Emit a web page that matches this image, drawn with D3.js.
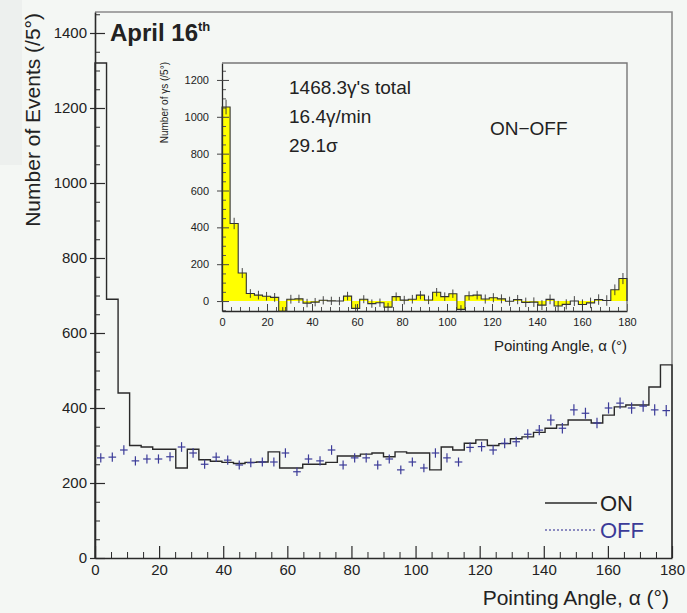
<!DOCTYPE html>
<html>
<head>
<meta charset="utf-8">
<script src="https://cdn.jsdelivr.net/npm/d3@7"></script>
<style>
  body { margin: 0; background: #f4f7f4; }
  svg { display: block; }
  text { font-family: "Liberation Sans", Arial, sans-serif; fill: #222; }
</style>
</head>
<body>
<svg id="chart" width="687" height="613"></svg>
<script>
// 3.6-degree bins of the pointing angle alpha, 0..180
const binWidth = 3.6;

// ON-source counts per bin
const onCounts = [
  1320, 690, 440, 300, 296, 290, 290, 240, 290, 262,
   258, 255, 252, 255, 256, 283, 240, 240, 250, 250,
   255, 272, 272, 277, 280, 270, 283, 280, 280, 235,
   296, 288, 306, 315, 300, 305, 318, 323, 335, 346,
   355, 368, 368, 360, 381, 403, 408, 408, 456, 515
];

// OFF-source counts per bin
const offCounts = [
   267, 269, 288, 259, 264, 264, 270, 296, 280, 250,
   269, 261, 248, 254, 256, 256, 280, 230, 264, 259,
   288, 248, 267, 267, 248, 264, 235, 256, 240, 280,
   267, 256, 295, 297, 288, 306, 310, 330, 341, 368,
   346, 395, 386, 360, 400, 413, 400, 405, 395, 393
];

const mainXTicks = [0, 20, 40, 60, 80, 100, 120, 140, 160, 180];
const mainYTicks = [0, 200, 400, 600, 800, 1000, 1200, 1400];
const insetXTicks = [0, 20, 40, 60, 80, 100, 120, 140, 160, 180];
const insetYTicks = [0, 200, 400, 600, 800, 1000, 1200];
const insetNotes = ["1468.3\u03b3's total", "16.4\u03b3/min", "29.1\u03c3"];
const legendLabels = ["ON", "OFF"];

const svg = d3.select("#chart");
const ink = "#2a2a2a";
const offColor = "#3b3b98";
const fmt = d3.format("d");

// page background, with the slightly greyer strip at top left
svg.append("rect").attr("width", 687).attr("height", 613).attr("fill", "#f4f7f4");
svg.append("rect").attr("width", 22).attr("height", 165).attr("fill", "#edf0ee");

// ---------- main panel ----------
const x = d3.scaleLinear().domain([0, 180]).range([95, 672]);
const y = d3.scaleLinear().domain([0, 1456]).range([558, 12]);

// frame (top and right edges)
svg.append("path")
  .attr("d", `M${x(0)},${y(1456)}H${x(180)}V${y(0)}`)
  .attr("fill", "none").attr("stroke", "#8a8a8a").attr("stroke-width", 1.6);

// minor ticks
svg.append("g").attr("transform", `translate(0,${y(0)})`)
  .call(d3.axisBottom(x).tickValues(d3.range(0, 181, 5).filter(v => v % 20)).tickSize(-6).tickSizeOuter(0).tickFormat(""))
  .call(g => g.select(".domain").remove())
  .selectAll("line").attr("stroke", ink);
svg.append("g").attr("transform", `translate(${x(0)},0)`)
  .call(d3.axisLeft(y).tickValues(d3.range(0, 1451, 50).filter(v => v % 200)).tickSize(-5).tickSizeOuter(0).tickFormat(""))
  .call(g => g.select(".domain").remove())
  .selectAll("line").attr("stroke", ink);

// major axes
const xAxisMain = svg.append("g").attr("transform", `translate(0,${y(0)})`)
  .call(d3.axisBottom(x).tickValues(mainXTicks).tickFormat(fmt).tickSize(-12).tickSizeOuter(0).tickPadding(6));
const yAxisMain = svg.append("g").attr("transform", `translate(${x(0)},0)`)
  .call(d3.axisLeft(y).tickValues(mainYTicks).tickFormat(fmt).tickSize(-10).tickSizeOuter(0).tickPadding(8));
[xAxisMain, yAxisMain].forEach(g => {
  g.select(".domain").attr("stroke", ink).attr("stroke-width", 1.6);
  g.selectAll("line").attr("stroke", ink).attr("stroke-width", 1.2);
  g.selectAll("text").style("font-size", "15px").attr("fill", "#222")
    .style("font-family", "'Liberation Sans', Arial, sans-serif");
});
yAxisMain.selectAll(".tick line").attr("x1", -5);

// ON histogram as a step outline
const edges = onCounts.map((v, i) => [i * binWidth, v]);
const stepLine = (sx, sy, data, base) => d3.line().curve(d3.curveStepAfter)
  .x(d => sx(d[0])).y(d => sy(d[1]))([[0, base], ...data, [180, data[data.length - 1][1]], [180, base]]);

svg.append("path")
  .attr("d", stepLine(x, y, edges, 0))
  .attr("fill", "none").attr("stroke", ink).attr("stroke-width", 1.4);

// OFF points with error crosses
const offG = svg.append("g").attr("stroke", offColor).attr("stroke-width", 1.2);
offCounts.forEach((v, i) => {
  const c = (i + 0.5) * binWidth;
  const e = Math.sqrt(v) * 0.75;
  offG.append("line").attr("x1", x(c - binWidth * 0.33)).attr("x2", x(c + binWidth * 0.33))
    .attr("y1", y(v)).attr("y2", y(v));
  offG.append("line").attr("x1", x(c)).attr("x2", x(c))
    .attr("y1", y(v - e)).attr("y2", y(v + e));
});

// title
svg.append("text").attr("x", 110).attr("y", 41)
  .style("font-size", "24px").style("font-weight", "bold")
  .text("April 16")
  .append("tspan").attr("dy", -10).style("font-size", "13px").text("th");

// axis titles
svg.append("text")
  .attr("transform", "translate(40,13) rotate(-90)")
  .attr("text-anchor", "end").style("font-size", "21px")
  .text("Number of Events (/5\u00b0)");
svg.append("text").attr("x", 669).attr("y", 605)
  .attr("text-anchor", "end").style("font-size", "21px")
  .text("Pointing Angle, \u03b1 (\u00b0)");

// legend
const legend = svg.append("g");
legend.append("line").attr("x1", 545).attr("x2", 597).attr("y1", 503).attr("y2", 503)
  .attr("stroke", ink).attr("stroke-width", 1.4);
legend.append("line").attr("x1", 545).attr("x2", 597).attr("y1", 530).attr("y2", 530)
  .attr("stroke", "#6a6ab0").attr("stroke-width", 1.4).attr("stroke-dasharray", "2,2");
legend.append("text").attr("x", 600).attr("y", 511).style("font-size", "22px").text(legendLabels[0]);
legend.append("text").attr("x", 600).attr("y", 538).style("font-size", "22px")
  .style("fill", offColor).text(legendLabels[1]);

// ---------- inset: ON - OFF ----------
const ix = d3.scaleLinear().domain([0, 180]).range([222, 627]);
const iy = d3.scaleLinear().domain([-54, 1292]).range([311, 63]);
const excess = onCounts.map((v, i) => v - offCounts[i]);
const excessErr = onCounts.map((v, i) => Math.sqrt(v + offCounts[i]));

svg.append("rect").attr("x", ix(0)).attr("y", iy(1292))
  .attr("width", ix(180) - ix(0)).attr("height", iy(-54) - iy(1292))
  .attr("fill", "#f5f8f5");

// yellow fill between the excess and zero
const iEdges = excess.map((v, i) => [i * binWidth, v]);
svg.append("path")
  .attr("d", d3.area().curve(d3.curveStepAfter)
    .x(d => ix(d[0])).y0(iy(0)).y1(d => iy(d[1]))([...iEdges, [180, excess[excess.length - 1]]]))
  .attr("fill", "#ffff00").attr("stroke", "none");

// inset ticks
svg.append("g").attr("transform", `translate(0,${iy(-54)})`)
  .call(d3.axisBottom(ix).tickValues(d3.range(0, 181, 4).filter(v => v % 20)).tickSize(-4).tickSizeOuter(0).tickFormat(""))
  .call(g => g.select(".domain").remove())
  .selectAll("line").attr("stroke", "#555");
svg.append("g").attr("transform", `translate(${ix(0)},0)`)
  .call(d3.axisLeft(iy).tickValues(d3.range(-50, 1291, 50).filter(v => v % 200)).tickSize(-4).tickSizeOuter(0).tickFormat(""))
  .call(g => g.select(".domain").remove())
  .selectAll("line").attr("stroke", "#555");

const ixAxis = svg.append("g").attr("transform", `translate(0,${iy(-54)})`)
  .call(d3.axisBottom(ix).tickValues(insetXTicks).tickFormat(fmt).tickSize(-7).tickSizeOuter(0).tickPadding(7));
const iyAxis = svg.append("g").attr("transform", `translate(${ix(0)},0)`)
  .call(d3.axisLeft(iy).tickValues(insetYTicks).tickFormat(fmt).tickSize(-7).tickSizeOuter(0).tickPadding(13));
[ixAxis, iyAxis].forEach(g => {
  g.select(".domain").attr("stroke", ink).attr("stroke-width", 1.3);
  g.selectAll("line").attr("stroke", "#444");
  g.selectAll("text").style("font-size", "11px").attr("fill", "#222")
    .style("font-family", "'Liberation Sans', Arial, sans-serif");
});
iyAxis.selectAll(".tick line").attr("x1", -5);

// inset frame top/right
svg.append("path")
  .attr("d", `M${ix(0)},${iy(1292)}H${ix(180)}V${iy(-54)}`)
  .attr("fill", "none").attr("stroke", "#777").attr("stroke-width", 1.4);

// excess histogram outline and its error bars
svg.append("path")
  .attr("d", d3.line().curve(d3.curveStepAfter).x(d => ix(d[0])).y(d => iy(d[1]))
    ([[0, 0], ...iEdges, [180, excess[excess.length - 1]], [180, 0]]))
  .attr("fill", "none").attr("stroke", "#333").attr("stroke-width", 1.1);
const errG = svg.append("g").attr("stroke", "#333").attr("stroke-width", 0.9);
excess.forEach((v, i) => {
  const c = (i + 0.5) * binWidth;
  errG.append("line").attr("x1", ix(c)).attr("x2", ix(c))
    .attr("y1", iy(Math.max(-54, v - excessErr[i]))).attr("y2", iy(v + excessErr[i]));
});

// inset annotations
svg.append("g").selectAll("text").data(insetNotes).join("text")
  .attr("x", 289).attr("y", (d, i) => 94 + i * 29)
  .style("font-size", "19px").text(d => d);
svg.append("text").attr("x", 490).attr("y", 135).style("font-size", "19px").text("ON\u2212OFF");

svg.append("text")
  .attr("transform", "translate(168,62) rotate(-90)")
  .attr("text-anchor", "end").style("font-size", "10px")
  .text("Number of \u03b3s (/5\u00b0)");
svg.append("text").attr("x", 627).attr("y", 351)
  .attr("text-anchor", "end").style("font-size", "15px")
  .text("Pointing Angle, \u03b1 (\u00b0)");
</script>
</body>
</html>
